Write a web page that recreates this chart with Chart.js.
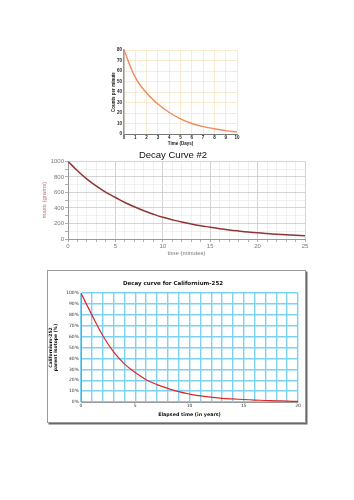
<!DOCTYPE html>
<html>
<head>
<meta charset="utf-8">
<script src="https://cdn.jsdelivr.net/npm/chart.js@4"></script>
<style>
  html, body { margin:0; padding:0; background:#fff; }
  body { width:354px; height:500px; position:relative; overflow:hidden; }
  canvas { position:absolute; display:block; }
  #box3 { position:absolute; left:47px; top:270px; width:257px; height:151px; border:1px solid #9a9a9a; box-shadow:1.5px 1.5px 0 #6a6a6a; background:#fff; }
</style>
</head>
<body>
<canvas id="k1" width="150" height="106" style="left:100px;top:40px"></canvas>
<canvas id="k2" width="352" height="112" style="left:0px;top:145px"></canvas>
<div id="box3"><canvas id="k3" width="257" height="147" style="left:0;top:0"></canvas></div>
<script>
// ---- Chart 1: counts per minute vs time (days)
const days = [0, 1, 2, 3, 4, 5, 6, 7, 8, 9, 10];
const counts = [80, 54, 39, 28.5, 20.5, 14.5, 10, 7, 5, 3.2, 2];
const yTicks1 = [0, 10, 20, 30, 40, 50, 60, 70, 80];

// ---- Chart 2: mass (grams) vs time (minutes)
const minutes = [0,1,2,3,4,5,6,7,8,9,10,11,12,13,14,15,16,17,18,19,20,21,22,23,24,25];
const mass = [1000,880,772,680,600,535,470,415,365,320,280,248,218,192,170,152,133,117,103,90,79,70,62,55,49,43];

// ---- Chart 3: Californium-252 parent isotope (%) vs years
const years = [0,1,2,3,4,5,6,7,8,9,10,11,12,13,14,15,16,17,18,19,20];
const percent = [100,80,61,46,35,27,20.5,16,12.5,9.5,7.3,5.6,4.4,3.4,2.8,2.3,1.8,1.4,1.1,0.8,0.5];

const pts = (xs, ys) => xs.map((x, i) => ({x: x, y: ys[i]}));

// Chart 1
new Chart(document.getElementById('k1'), {
  type: 'line',
  data: { datasets: [{ data: pts(days, counts), borderColor: '#f28a5c', borderWidth: 1.4,
    pointRadius: 0, tension: 0.4, fill: false }] },
  options: {
    responsive: false, animation: false,
    layout: { padding: { top: 10, right: 13, left: 11, bottom: 0 } },
    plugins: { legend: { display: false }, tooltip: { enabled: false } },
    scales: {
      x: { type: 'linear', min: 0, max: 10,
        ticks: { stepSize: 1, autoSkip: false, color: '#222', font: { family: 'Liberation Sans', size: 4.5, weight: 'bold' }, padding: 1, maxRotation: 0 },
        grid: { color: '#f7e4c6', lineWidth: 0.8, drawTicks: false },
        border: { color: '#777', width: 1 },
        title: { display: true, text: 'Time (Days)', color: '#222', font: { family: 'Liberation Sans', size: 4.5, weight: 'bold' }, padding: { top: 0, bottom: 0 } },
        afterFit: s => { s.height = 12; } },
      y: { type: 'linear', min: 0, max: 80,
        afterBuildTicks: s => { s.ticks = yTicks1.map(v => ({ value: v })); },
        ticks: { color: '#222', font: { family: 'Liberation Sans', size: 4.5, weight: 'bold' }, padding: 2 },
        grid: { color: '#f7e4c6', lineWidth: 0.8, drawTicks: false },
        border: { color: '#999', width: 1.5 },
        title: { display: true, text: 'Counts per minute', color: '#222', font: { family: 'Liberation Sans', size: 4.5, weight: 'bold' }, padding: 0 },
        afterFit: s => { s.width = 13; } }
    }
  }
});

// Chart 2
new Chart(document.getElementById('k2'), {
  type: 'line',
  data: { datasets: [{ data: pts(minutes, mass), borderColor: '#8e3636', borderWidth: 1.5,
    pointRadius: 0, tension: 0.4, fill: false }] },
  options: {
    responsive: false, animation: false,
    layout: { padding: { top: 0, right: 47, left: 41, bottom: 0 } },
    plugins: { legend: { display: false }, tooltip: { enabled: false },
      title: { display: true, text: 'Decay Curve #2', color: '#111', font: { family: 'Liberation Sans', size: 9.5, weight: 'normal' }, padding: { top: 5, bottom: 0 } } },
    scales: {
      x: { type: 'linear', min: 0, max: 25,
        ticks: { stepSize: 1, autoSkip: false, maxRotation: 0, color: '#777', font: { family: 'Liberation Sans', size: 6 }, padding: 1,
          callback: v => (v % 5 === 0 ? String(v) : '') },
        grid: { color: ctx => (ctx.tick && ctx.tick.value % 5 === 0 ? '#c9c9c9' : '#ececec'), lineWidth: 0.8, tickLength: 3, tickColor: '#999' },
        border: { color: '#999', width: 1 },
        title: { display: true, text: 'time (minutes)', color: '#777', font: { family: 'Liberation Sans', size: 6 }, padding: { top: 0, bottom: 0 } },
        afterFit: s => { s.height = 18; } },
      y: { type: 'linear', min: 0, max: 1000,
        ticks: { stepSize: 100, autoSkip: false, color: '#777', font: { family: 'Liberation Sans', size: 6 }, padding: 1,
          callback: v => (v % 200 === 0 ? String(v) : '') },
        grid: { color: ctx => (ctx.tick && ctx.tick.value % 200 === 0 ? '#c9c9c9' : '#ececec'), lineWidth: 0.8, tickLength: 3, tickColor: '#999' },
        border: { color: '#999', width: 1 },
        title: { display: true, text: 'mass (grams)', color: '#c07070', font: { family: 'Liberation Sans', size: 6 }, padding: 0 },
        afterFit: s => { s.width = 27; } }
    }
  }
});

// Chart 3
new Chart(document.getElementById('k3'), {
  type: 'line',
  data: { datasets: [{ data: pts(years, percent), borderColor: '#d92a2a', borderWidth: 1.2,
    pointRadius: 0, tension: 0.4, fill: false }] },
  options: {
    responsive: false, animation: false,
    layout: { padding: { top: 0, right: 7, left: 0, bottom: 0 } },
    plugins: { legend: { display: false }, tooltip: { enabled: false },
      title: { display: true, text: 'Decay curve for Californium-252', color: '#111', font: { family: 'DejaVu Sans', size: 5.5, weight: 'bold' }, padding: { top: 9, bottom: 6.5 } } },
    scales: {
      x: { type: 'linear', min: 0, max: 20,
        ticks: { stepSize: 1, autoSkip: false, maxRotation: 0, color: '#333', font: { family: 'DejaVu Sans', size: 4.5 }, padding: 1,
          callback: v => (v % 5 === 0 ? String(v) : '') },
        grid: { color: '#7dd2f2', lineWidth: 1.4, drawTicks: false },
        border: { color: '#999', width: 1 },
        title: { display: true, text: 'Elapsed time (in years)', color: '#111', font: { family: 'DejaVu Sans', size: 4.8, weight: 'bold' }, padding: { top: 1, bottom: 0 } },
        afterFit: s => { s.height = 16; } },
      y: { type: 'linear', min: 0, max: 100,
        ticks: { stepSize: 10, color: '#333', font: { family: 'DejaVu Sans', size: 4.5 }, padding: 2,
          callback: v => v + '%' },
        grid: { color: '#7dd2f2', lineWidth: 1.4, drawTicks: false },
        border: { color: '#999', width: 1 },
        title: { display: true, text: ['Californium-252', 'parent isotope (%)'], color: '#111', font: { family: 'DejaVu Sans', size: 4.5, weight: 'bold' }, padding: { top: 0, bottom: 3 } },
        afterFit: s => { s.width = 33; } }
    }
  }
});
</script>
</body>
</html>
